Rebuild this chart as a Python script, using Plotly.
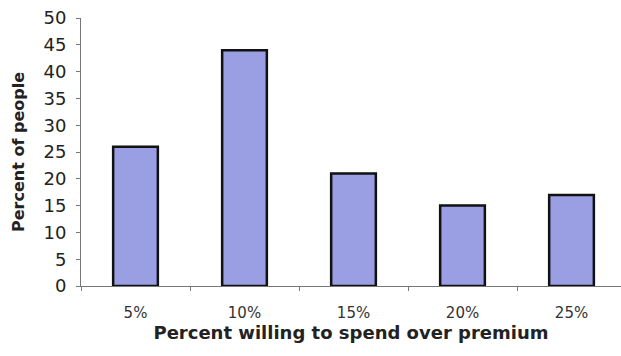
import plotly.graph_objects as go

# Survey results: share of people willing to pay each premium level
categories = ["5%", "10%", "15%", "20%", "25%"]
percent_of_people = [26, 44, 21, 15, 17]
y_ticks = [0, 5, 10, 15, 20, 25, 30, 35, 40, 45, 50]

FONT = "DejaVu Sans, Arial, sans-serif"

fig = go.Figure(
    go.Bar(
        x=categories,
        y=percent_of_people,
        width=0.41,
        marker=dict(color="#9a9fe3", line=dict(color="#111111", width=2.5)),
    )
)

fig.update_layout(
    width=621,
    height=356,
    margin=dict(l=81, r=0, t=18, b=70),
    paper_bgcolor="white",
    plot_bgcolor="white",
    showlegend=False,
    font=dict(family=FONT, color="#222222"),
)

fig.update_xaxes(
    range=[-0.5, 4.454],
    showline=True,
    linecolor="#777777",
    linewidth=1,
    ticks="outside",
    tickson="boundaries",
    ticklen=4,
    tickcolor="#777777",
    tickfont=dict(family=FONT, size=15, color="#333333"),
    ticklabelstandoff=13,
    title=dict(
        text="<b>Percent willing to spend over premium</b>",
        font=dict(family=FONT, size=18, color="#222222"),
        standoff=3,
    ),
    automargin=False,
    showgrid=False,
)

fig.update_yaxes(
    range=[0, 50],
    tickvals=y_ticks,
    showline=True,
    linecolor="#777777",
    linewidth=1,
    ticks="outside",
    ticklen=4,
    tickcolor="#777777",
    tickfont=dict(family=FONT, size=18, color="#222222"),
    ticklabelstandoff=6,
    title=dict(
        text="<b>Percent of people</b>",
        font=dict(family=FONT, size=16, color="#222222"),
        standoff=14,
    ),
    automargin=False,
    showgrid=False,
    zeroline=False,
)

fig.write_html("out.html")
